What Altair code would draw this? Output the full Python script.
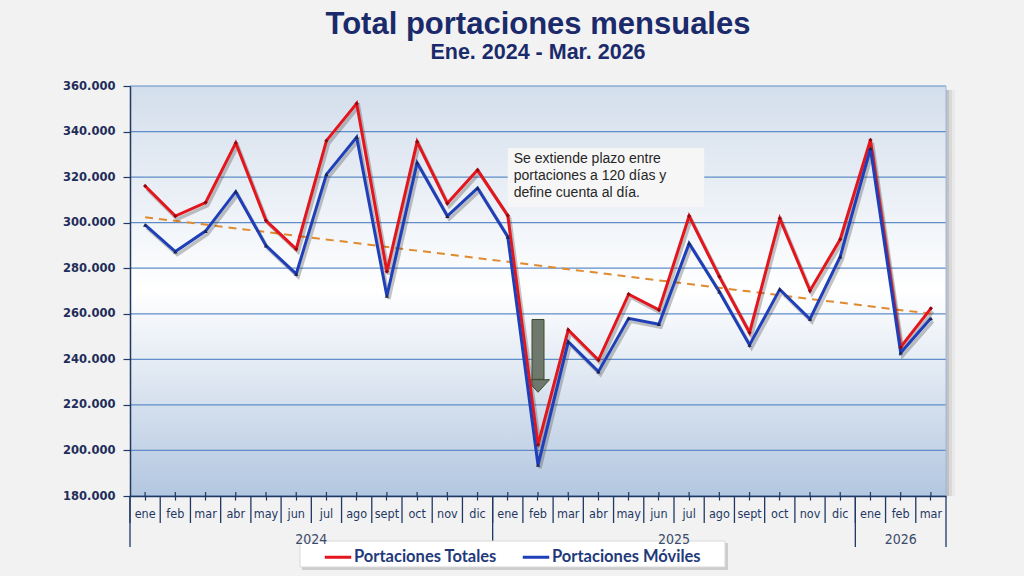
import altair as alt
import pandas as pd

# ---------------- data ----------------
months = ["ene", "feb", "mar", "abr", "may", "jun", "jul", "ago", "sept", "oct", "nov", "dic",
          "ene", "feb", "mar", "abr", "may", "jun", "jul", "ago", "sept", "oct", "nov", "dic",
          "ene", "feb", "mar"]
years = [2024] * 12 + [2025] * 12 + [2026] * 3
totales = [316100, 302900, 308800, 335000, 300900, 288400, 336000, 352300, 278500, 335500, 308500, 323100,
           303100, 202400, 252900, 239700, 268600, 261700, 302900, 276300, 251700, 301900, 270100, 292700,
           336300, 245300, 262400]
moviles = [299000, 287300, 296300, 313600, 289900, 277500, 321200, 337500, 267800, 326300, 302900, 315200,
           293800, 193600, 247700, 234600, 258000, 255400, 290900, 269700, 246300, 270700, 257700, 285100,
           332600, 242900, 258000]
series_names = ["Portaciones Totales", "Portaciones Móviles"]
y_ticks = [180000, 200000, 220000, 240000, 260000, 280000, 300000, 320000, 340000, 360000]
trend_values = [302400, 260000]          # dashed trend line, first and last month
year_labels = ["2024", "2025", "2026"]
note_lines = ["Se extiende plazo entre", "portaciones a 120 días y", "define cuenta al día."]

# ---------------- styling ----------------
W, H = 816, 410
RED, BLUE = "#e3161d", "#1f3fb8"
NAVY = "#1b2a6b"
AXIS_NAVY = "#1f3864"
COND = "'Liberation Sans Narrow', 'DejaVu Sans Condensed', 'Roboto Condensed', 'Arial Narrow', sans-serif"

keys = [f"{m}|{y}" for m, y in zip(months, years)]

df = pd.DataFrame({"key": keys, "mes": months, "anio": years, "tot": totales, "mov": moviles})
long = pd.concat([
    pd.DataFrame({"key": keys, "serie": series_names[0], "valor": totales}),
    pd.DataFrame({"key": keys, "serie": series_names[1], "valor": moviles}),
])

x_scale = alt.Scale(domain=keys, paddingInner=0, paddingOuter=0)
y_scale = alt.Scale(domain=[y_ticks[0], y_ticks[-1]], nice=False, zero=False)

x_axis = alt.Axis(title=None, labelExpr="split(datum.value, '|')[0]", labelFont=COND,
                  labelFontSize=12.5, labelColor=AXIS_NAVY, labelAngle=0, labelOverlap=False,
                  ticks=True, tickSize=4, tickColor=AXIS_NAVY, tickWidth=1.2,
                  domainColor=AXIS_NAVY, domainWidth=1.5, labelPadding=7, grid=False, zindex=2)
y_axis = alt.Axis(title=None, values=y_ticks,
                  labelExpr="replace(format(datum.value, ','), ',', '.')",
                  labelFont="DejaVu Sans", labelFontWeight="bold", labelFontSize=11.5,
                  labelColor="#1f2d5a", tickSize=7, tickColor=AXIS_NAVY, tickWidth=1.2,
                  domainColor=AXIS_NAVY, domainWidth=1.5, labelPadding=8, grid=False, zindex=2)


def X(field="key", band=0.5):
    return alt.X(f"{field}:O", scale=x_scale, sort=keys, bandPosition=band, axis=x_axis)


def Y(field):
    return alt.Y(f"{field}:Q", scale=y_scale, axis=y_axis)


base = alt.Chart(df)
one = alt.Chart(df.head(1))

# shadow to the right of the plot area
shadow = [
    one.mark_rect(color="#7f7f7f", opacity=op).encode(
        x=alt.value(W), x2=alt.value(W + d), y=alt.value(4), y2=alt.value(H))
    for d, op in [(3, 0.25), (6, 0.15), (9, 0.08)]
]

bg = one.mark_rect(
    color=alt.Gradient(gradient="linear", x1=0, x2=0, y1=0, y2=1,
                       stops=[alt.GradientStop(offset=0, color="#d3deec"),
                              alt.GradientStop(offset=0.5, color="#ffffff"),
                              alt.GradientStop(offset=1, color="#b3c7e0")])
).encode(x=alt.value(0), x2=alt.value(W), y=alt.value(0), y2=alt.value(H))

right_edge = one.mark_rule(color="#9db6d8", strokeWidth=1).encode(
    x=alt.value(W), y=alt.value(0), y2=alt.value(H))

grid = alt.Chart(pd.DataFrame({"v": y_ticks})).mark_rule(color="#5f8dc8", strokeWidth=1.2).encode(
    y=Y("v"), x=alt.value(0), x2=alt.value(W))

# annotation box
note_df = pd.DataFrame({"k1": ["ene|2025"], "k2": ["ago|2025"], "top": [332800], "bot": [306900],
                        "ty": [331200]})
note_df["txt"] = [note_lines]
note_box = alt.Chart(note_df).mark_rect(color="#f6f6f6").encode(
    x=X("k1", 0.5), x2=alt.X2("k2", bandPosition=0), y=Y("top"), y2=alt.Y2("bot"))
note_text = alt.Chart(note_df).mark_text(
    align="left", baseline="top", dx=6, font="Liberation Sans", fontSize=14, lineHeight=17,
    color="#262626").encode(x=X("k1", 0.5), y=Y("ty"), text="txt")

# trend line
trend_df = pd.DataFrame({"key": [keys[0], keys[-1]], "t": trend_values})
trend = alt.Chart(trend_df).mark_line(color="#e08a30", strokeWidth=2, strokeDash=[8, 6]).encode(
    x=X(), y=Y("t"))

# line shadows
line_shadow = alt.Chart(long).mark_line(color="#3a3a3a", opacity=0.3, strokeWidth=3.5,
                                        xOffset=2, yOffset=3).encode(
    x=X(), y=Y("valor"), detail="serie:N")

lines = alt.Chart(long).mark_line(strokeWidth=3).encode(
    x=X(), y=Y("valor"),
    color=alt.Color("serie:N", scale=alt.Scale(domain=series_names, range=[RED, BLUE]),
                    legend=alt.Legend(
                        title=None, orient="none", legendX=191, legendY=454, direction="horizontal",
                        padding=2, symbolType="stroke", symbolStrokeWidth=3, symbolSize=700,
                        labelFont="Lato", labelFontSize=16.5, labelFontWeight="bold",
                        labelColor="#1f3a7a", labelOffset=1, columnPadding=19,
                        labelLimit=300)))

pts_tot = base.mark_point(shape="diamond", filled=True, size=18, color="#8e0a12", opacity=1).encode(
    x=X(), y=Y("tot"))
pts_mov = base.mark_point(shape="triangle-up", filled=True, size=18, color="#1a2550", opacity=1).encode(
    x=X(), y=Y("mov"))

# arrow pointing to February 2025
arrow_df = pd.DataFrame({"key": ["feb|2025"], "top": [257500], "bot": [231200], "tip": [228300]})
arrow_shaft = alt.Chart(arrow_df).mark_bar(size=12, color="#6f786c", stroke="#3d4a2c",
                                           strokeWidth=1).encode(
    x=X(), y=Y("top"), y2=alt.Y2("bot"))
arrow_head = alt.Chart(arrow_df).mark_point(
    shape="M-1,-0.55L1,-0.55L0,0.55Z", size=529, filled=True, color="#6f786c",
    stroke="#3d4a2c", strokeWidth=1, opacity=1).encode(x=X(), y=Y("tip"))

# x axis decorations: month dividers, centre ticks, year dividers, year labels
div_df = pd.DataFrame({"key": keys})
month_div = alt.Chart(div_df).mark_rule(color=AXIS_NAVY, strokeWidth=1.3).encode(
    x=X("key", 0), y=alt.value(H), y2=alt.value(H + 27))
month_div_end = alt.Chart(div_df.tail(1)).mark_rule(color=AXIS_NAVY, strokeWidth=1.3).encode(
    x=X("key", 1), y=alt.value(H), y2=alt.value(H + 51))
centre_ticks = alt.Chart(div_df).mark_rule(color=AXIS_NAVY, strokeWidth=1.2).encode(
    x=X("key", 0.5), y=alt.value(H - 4), y2=alt.value(H))
year_start = pd.DataFrame({"key": ["ene|2024", "ene|2025", "ene|2026"]})
year_div = alt.Chart(year_start).mark_rule(color=AXIS_NAVY, strokeWidth=1.3).encode(
    x=X("key", 0), y=alt.value(H), y2=alt.value(H + 51))

ylab_a = pd.DataFrame({"key": ["jul|2024", "jul|2025"], "txt": year_labels[:2]})
ylab_b = pd.DataFrame({"key": ["feb|2026"], "txt": year_labels[2:]})
year_text_a = alt.Chart(ylab_a).mark_text(font=COND, fontSize=14, color="#3b4a6b",
                                          baseline="alphabetic").encode(
    x=X("key", 0), y=alt.value(H + 48), text="txt:N")
year_text_b = alt.Chart(ylab_b).mark_text(font=COND, fontSize=14, color="#3b4a6b",
                                          baseline="middle").encode(
    x=X("key", 0.5), y=alt.value(H + 44), text="txt:N")

# legend frame (drawn behind the legend itself)
legend_shadow = one.mark_rect(color="#8a8a8a", opacity=0.35).encode(
    x=alt.value(172), x2=alt.value(598), y=alt.value(457), y2=alt.value(484))
legend_box = one.mark_rect(color="#ffffff", stroke="#d9d9d9", strokeWidth=1).encode(
    x=alt.value(170), x2=alt.value(595), y=alt.value(455), y2=alt.value(481))

chart = alt.layer(
    *shadow, bg, grid, right_edge, note_box, note_text, trend, arrow_shaft, arrow_head,
    line_shadow, lines, pts_tot, pts_mov,
    month_div, month_div_end, centre_ticks, year_div,
    legend_shadow, legend_box, year_text_a, year_text_b,
).properties(
    width=W, height=H,
    padding={"left": 130, "top": 86, "right": 78, "bottom": 80},
    autosize=alt.AutoSizeParams(type="none"),
    title=alt.Title(text="Total portaciones mensuales", subtitle="Ene. 2024 - Mar. 2026",
                    font="Liberation Sans", fontSize=31, fontWeight="bold", color=NAVY,
                    subtitleFont="Liberation Sans", subtitleFontSize=21.5,
                    subtitleFontWeight="bold", subtitleColor=NAVY,
                    anchor="middle", frame="group", offset=16, subtitlePadding=1),
).configure(background="#f2f2f2").configure_view(stroke=None)

chart.save("out.html", embed_options={"renderer": "svg", "actions": False})
